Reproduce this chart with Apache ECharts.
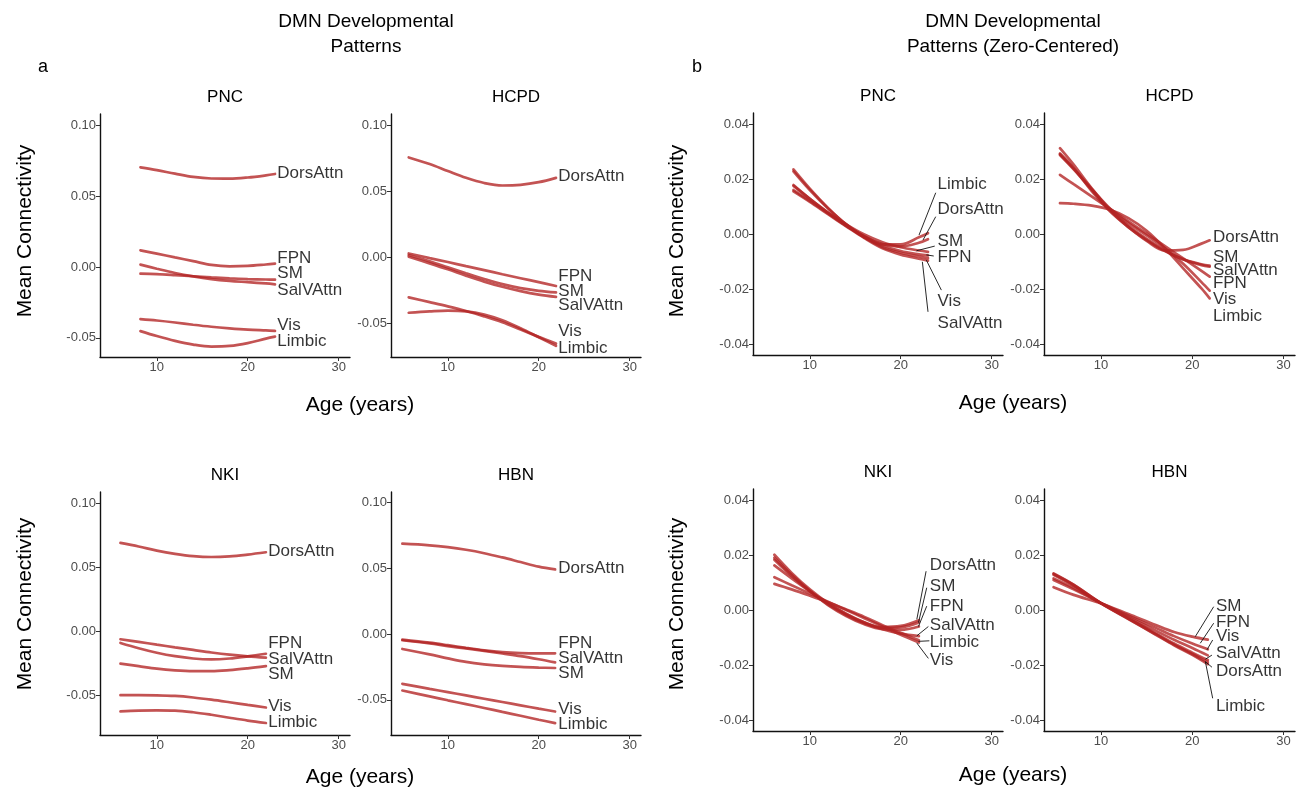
<!DOCTYPE html>
<html><head><meta charset="utf-8">
<script src="https://cdn.jsdelivr.net/npm/echarts@6/dist/echarts.min.js"></script>
<style>html,body{margin:0;padding:0;background:#fff}#c{width:1299px;height:789px}</style>
</head><body><div id="c"></div>
<script>
// ---------- DATA ----------
const NETS = ["DorsAttn", "FPN", "SM", "SalVAttn", "Vis", "Limbic"];
const X_TICKS = [10, 20, 30];
const A_TICKS = [-0.05, 0, 0.05, 0.10];
const B_TICKS = [-0.04, -0.02, 0, 0.02, 0.04];

// Panel a: PNC
const aPNC_age = [8.2, 10, 12, 14, 16, 18, 20, 22, 23];
const aPNC_vals = [
  [0.0705, 0.0685, 0.066, 0.0637, 0.0626, 0.0625, 0.0633, 0.0648, 0.0658],
  [0.0118, 0.0095, 0.0068, 0.0042, 0.0015, 0.0005, 0.0008, 0.0018, 0.0024],
  [-0.0047, -0.005, -0.0057, -0.0065, -0.0073, -0.008, -0.0085, -0.0088, -0.0089],
  [0.0017, -0.0012, -0.0042, -0.0066, -0.0085, -0.0098, -0.0107, -0.0116, -0.0122],
  [-0.0368, -0.0378, -0.0392, -0.0408, -0.0422, -0.0433, -0.0442, -0.0448, -0.0451],
  [-0.0453, -0.0488, -0.0522, -0.0548, -0.0562, -0.0558, -0.0538, -0.0506, -0.0492]
];
const aPNC_labelY = [0.066, 0.0059, -0.0046, -0.0164, -0.0411, -0.0523];

// Panel a: HCPD
const aHCPD_age = [5.7, 8, 10, 12, 14, 16, 18, 20, 21.9];
const aHCPD_vals = [
  [0.0755, 0.0705, 0.0652, 0.0601, 0.0562, 0.0543, 0.0548, 0.0568, 0.0601],
  [0.003, -0.0005, -0.0035, -0.0066, -0.0096, -0.0127, -0.0157, -0.0187, -0.0216],
  [0.0018, -0.003, -0.0075, -0.012, -0.0163, -0.0202, -0.0232, -0.0252, -0.0264],
  [0.0005, -0.0045, -0.009, -0.0138, -0.0183, -0.0222, -0.0255, -0.0281, -0.0298],
  [-0.0302, -0.0338, -0.037, -0.0405, -0.0445, -0.049, -0.0545, -0.06, -0.065],
  [-0.0418, -0.0408, -0.0402, -0.0408, -0.0432, -0.0475, -0.0535, -0.0603, -0.0668]
];
const aHCPD_labelY = [0.0609, -0.0139, -0.0255, -0.036, -0.0557, -0.0683];

// Panel a: NKI
const aNKI_age = [6, 8, 10, 12, 14, 16, 18, 20, 22];
const aNKI_vals = [
  [0.0688, 0.066, 0.0628, 0.0603, 0.0585, 0.0578, 0.0583, 0.0597, 0.0615],
  [-0.0065, -0.0085, -0.0107, -0.0128, -0.0148, -0.0168, -0.0185, -0.0198, -0.0208],
  [-0.0255, -0.0275, -0.0295, -0.0308, -0.0314, -0.0314, -0.0306, -0.0292, -0.0275],
  [-0.0094, -0.0135, -0.017, -0.0197, -0.0215, -0.0222, -0.0215, -0.0198, -0.0178],
  [-0.0502, -0.0502, -0.0503, -0.0508, -0.052, -0.0537, -0.0557, -0.0578, -0.0598],
  [-0.0628, -0.0622, -0.062, -0.0622, -0.0635, -0.0655, -0.0678, -0.07, -0.0719]
];
const aNKI_labelY = [0.0625, -0.0094, -0.0341, -0.0221, -0.0588, -0.0711];

// Panel a: HBN
const aHBN_age = [5, 8, 10, 12, 14, 16, 18, 20, 21.8];
const aHBN_vals = [
  [0.0684, 0.0672, 0.0658, 0.0638, 0.0612, 0.058, 0.0545, 0.051, 0.0489],
  [-0.0043, -0.0066, -0.0085, -0.0105, -0.0124, -0.0138, -0.0145, -0.0147, -0.0147],
  [-0.0114, -0.0155, -0.0185, -0.0212, -0.023, -0.0242, -0.025, -0.0255, -0.0258],
  [-0.0048, -0.0072, -0.0092, -0.011, -0.0128, -0.0148, -0.0168, -0.0192, -0.0216],
  [-0.0378, -0.0416, -0.0441, -0.0466, -0.0491, -0.0516, -0.0541, -0.0566, -0.0588],
  [-0.0429, -0.0473, -0.0503, -0.0532, -0.0561, -0.0591, -0.062, -0.065, -0.0676]
];
const aHBN_labelY = [0.0494, -0.0074, -0.0302, -0.0188, -0.0575, -0.0684];

// Panel b: PNC (zero-centered)
const bPNC_age = [8.2, 10, 12, 14, 16, 18, 20, 22, 23];
const bPNC_vals = [
  [0.0228, 0.016, 0.0093, 0.0035, -0.001, -0.0037, -0.0045, -0.0032, -0.0019],
  [0.016, 0.012, 0.0075, 0.003, -0.0008, -0.0042, -0.0062, -0.0074, -0.0078],
  [0.0178, 0.0128, 0.0078, 0.0035, -0.0002, -0.003, -0.0048, -0.006, -0.0065],
  [0.0155, 0.0117, 0.0072, 0.0028, -0.0015, -0.0052, -0.0075, -0.009, -0.0097],
  [0.0175, 0.0128, 0.0078, 0.003, -0.0012, -0.0048, -0.0068, -0.0082, -0.0088],
  [0.0235, 0.0165, 0.0095, 0.0035, -0.0012, -0.0038, -0.0038, -0.0012, 0.0003]
];
const bPNC_labelY = [0.0091, -0.0083, -0.0025, -0.0323, -0.0244, 0.0182];
// leader segments: [label-side x, label-side y, tip x, tip y]
const bPNC_segs = [
  [23.85, 0.0063, 22.45, -0.0022],
  [23.63, -0.008, 22.82, -0.0076],
  [23.74, -0.0044, 21.73, -0.0061],
  [23.0, -0.0283, 22.38, -0.0101],
  [24.47, -0.0204, 22.82, -0.0095],
  [23.85, 0.015, 22.01, -0.0004]
];

// Panel b: HCPD (zero-centered)
const bHCPD_age = [5.5, 7, 9, 11, 13, 15, 17, 19, 21, 21.9];
const bHCPD_vals = [
  [0.0293, 0.024, 0.0155, 0.0082, 0.0025, -0.0025, -0.006, -0.0058, -0.0035, -0.0023],
  [0.0215, 0.0181, 0.0136, 0.0091, 0.0046, 0.0001, -0.0044, -0.0089, -0.0134, -0.0155],
  [0.0287, 0.0235, 0.016, 0.0085, 0.0025, -0.0022, -0.0062, -0.0092, -0.011, -0.0115],
  [0.029, 0.0238, 0.0163, 0.0088, 0.003, -0.0018, -0.006, -0.0093, -0.0113, -0.0119],
  [0.0312, 0.0252, 0.0165, 0.0092, 0.004, -0.0005, -0.0052, -0.0108, -0.0175, -0.0206],
  [0.0112, 0.011, 0.0103, 0.0088, 0.0058, 0.0012, -0.0052, -0.0125, -0.0198, -0.0234]
];
const bHCPD_labelY = [-0.0013, -0.0179, -0.0083, -0.0133, -0.0237, -0.0298];

// Panel b: NKI (zero-centered)
const bNKI_age = [6.1, 8, 10, 12, 14, 16, 18, 20, 22];
const bNKI_vals = [
  [0.0201, 0.0135, 0.0075, 0.0025, -0.0015, -0.0045, -0.0062, -0.0058, -0.0037],
  [0.0183, 0.0124, 0.0068, 0.0018, -0.0022, -0.0052, -0.007, -0.0072, -0.006],
  [0.019, 0.0128, 0.007, 0.002, -0.0018, -0.0048, -0.0065, -0.0063, -0.0045],
  [0.0162, 0.0115, 0.0068, 0.0025, -0.0013, -0.0045, -0.007, -0.0086, -0.0095],
  [0.0119, 0.009, 0.006, 0.003, 0.0, -0.003, -0.006, -0.009, -0.0118],
  [0.0095, 0.0075, 0.0052, 0.0028, 0.0002, -0.0025, -0.0055, -0.0083, -0.011]
];
const bNKI_labelY = [0.0162, 0.0014, 0.0085, -0.0054, -0.0184, -0.0118];
const bNKI_segs = [
  [22.79, 0.0141, 21.77, -0.0034],
  [22.86, 0.0014, 21.95, -0.006],
  [22.86, 0.0081, 21.95, -0.0046],
  [23.04, -0.006, 21.77, -0.0094],
  [23.04, -0.0176, 21.77, -0.012],
  [23.15, -0.0112, 21.95, -0.0114]
];

// Panel b: HBN (zero-centered)
const bHBN_age = [4.8, 7, 10, 13, 16, 18, 20, 21.7];
const bHBN_vals = [
  [0.0131, 0.0091, 0.0025, -0.0032, -0.0088, -0.0126, -0.016, -0.019],
  [0.0109, 0.0075, 0.0026, -0.002, -0.0065, -0.0095, -0.0122, -0.0143],
  [0.0083, 0.0055, 0.0024, -0.0015, -0.0055, -0.008, -0.0097, -0.0108],
  [0.0128, 0.0088, 0.0024, -0.003, -0.0085, -0.0122, -0.0155, -0.0182],
  [0.0115, 0.008, 0.0025, -0.0025, -0.0075, -0.0108, -0.0138, -0.0165],
  [0.0133, 0.0092, 0.0024, -0.0033, -0.009, -0.0128, -0.0163, -0.0197]
];
const bHBN_labelY = [-0.0224, -0.0046, 0.0015, -0.0158, -0.0095, -0.0352];
const bHBN_segs = [
  [22.15, -0.0208, 21.43, -0.0188],
  [22.34, -0.0048, 20.87, -0.0121],
  [22.34, 0.0012, 20.32, -0.0097],
  [22.15, -0.0164, 21.43, -0.0179],
  [22.23, -0.0109, 21.6, -0.0145],
  [22.23, -0.0321, 21.43, -0.0188]
];

// ---------- LAYOUT / STYLE ----------
const FONT = '"Liberation Sans", Arial, Helvetica, sans-serif';
const LINE_COLOR = 'rgba(178,34,34,0.78)';

const panels = [
  {title: 'PNC', ages: aPNC_age, vals: aPNC_vals, labelX: 23.2, labelY: aPNC_labelY, segs: null,
   yMin: -0.0636, yMax: 0.1082, ticks: A_TICKS, box: [100, 114, 350, 357]},
  {title: 'HCPD', ages: aHCPD_age, vals: aHCPD_vals, labelX: 22.1, labelY: aHCPD_labelY, segs: null,
   yMin: -0.0752, yMax: 0.1083, ticks: A_TICKS, box: [391, 114, 641, 357]},
  {title: 'NKI', ages: aNKI_age, vals: aNKI_vals, labelX: 22.2, labelY: aNKI_labelY, segs: null,
   yMin: -0.0813, yMax: 0.1086, ticks: A_TICKS, box: [100, 492, 350, 735]},
  {title: 'HBN', ages: aHBN_age, vals: aHBN_vals, labelX: 22.1, labelY: aHBN_labelY, segs: null,
   yMin: -0.0766, yMax: 0.1076, ticks: A_TICKS, box: [391, 492, 641, 735]},
  {title: 'PNC', ages: bPNC_age, vals: bPNC_vals, labelX: 24.0, labelY: bPNC_labelY, segs: bPNC_segs,
   yMin: -0.044, yMax: 0.044, ticks: B_TICKS, box: [753, 113, 1003, 355]},
  {title: 'HCPD', ages: bHCPD_age, vals: bHCPD_vals, labelX: 22.2, labelY: bHCPD_labelY, segs: null,
   yMin: -0.044, yMax: 0.044, ticks: B_TICKS, box: [1044, 113, 1295, 355]},
  {title: 'NKI', ages: bNKI_age, vals: bNKI_vals, labelX: 23.15, labelY: bNKI_labelY, segs: bNKI_segs,
   yMin: -0.044, yMax: 0.044, ticks: B_TICKS, box: [753, 489, 1003, 731]},
  {title: 'HBN', ages: bHBN_age, vals: bHBN_vals, labelX: 22.53, labelY: bHBN_labelY, segs: bHBN_segs,
   yMin: -0.044, yMax: 0.044, ticks: B_TICKS, box: [1044, 489, 1295, 731]}
];

const grid = [], xAxis = [], yAxis = [], series = [], graphic = [];
const axisLineStyle = {color: '#111', width: 1.4};

panels.forEach((p, i) => {
  const [l, t, r, b] = p.box;
  grid.push({left: l, top: t, width: r - l, height: b - t, containLabel: false});
  xAxis.push({
    type: 'value', gridIndex: i, min: 3.75, max: 31.25,
    axisLine: {show: true, onZero: false, lineStyle: axisLineStyle},
    axisTick: {show: true, customValues: X_TICKS, length: 4, lineStyle: {color: '#333', width: 1}},
    axisLabel: {show: true, customValues: X_TICKS, color: '#4d4d4d', fontSize: 13, fontFamily: FONT, margin: 4},
    splitLine: {show: false}
  });
  yAxis.push({
    type: 'value', gridIndex: i, min: p.yMin, max: p.yMax,
    axisLine: {show: true, onZero: false, lineStyle: axisLineStyle},
    axisTick: {show: true, customValues: p.ticks, length: 4, lineStyle: {color: '#333', width: 1}},
    axisLabel: {show: true, customValues: p.ticks, color: '#4d4d4d', fontSize: 13, fontFamily: FONT, margin: 4,
                formatter: v => (Math.abs(v) < 1e-9 ? 0 : v).toFixed(2)},
    splitLine: {show: false}
  });
  NETS.forEach((n, k) => {
    series.push({
      type: 'line', xAxisIndex: i, yAxisIndex: i, name: p.title + ' ' + n,
      data: p.ages.map((a, j) => [a, p.vals[k][j]]),
      smooth: 0.35, showSymbol: false, silent: true, z: 2,
      lineStyle: {color: LINE_COLOR, width: 2.7, cap: 'round'}
    });
  });
  if (p.segs) {
    series.push({
      type: 'lines', coordinateSystem: 'cartesian2d', xAxisIndex: i, yAxisIndex: i, silent: true, z: 3,
      lineStyle: {color: '#111', width: 0.9, opacity: 1},
      data: p.segs.map(s => ({coords: [[s[0], s[1]], [s[2], s[3]]]}))
    });
  }
  series.push({
    type: 'scatter', xAxisIndex: i, yAxisIndex: i, silent: true, z: 4,
    symbolSize: 1, itemStyle: {color: 'rgba(0,0,0,0)'},
    data: NETS.map((n, k) => [p.labelX, p.labelY[k], n]),
    label: {show: true, position: 'right', distance: 0, color: '#000', fontSize: 17, fontFamily: FONT,
            formatter: q => q.data[2]}
  });
  graphic.push({type: 'text', silent: true, x: (l + r) / 2, y: t - 17,
    style: {text: p.title, align: 'center', verticalAlign: 'middle', fill: '#000', font: '17px ' + FONT}});
});

function txt(text, x, y, size, rot) {
  graphic.push({type: 'text', silent: true, x: x, y: y, rotation: rot || 0,
    style: {text: text, align: 'center', verticalAlign: 'middle', fill: '#000', font: size + 'px ' + FONT}});
}
txt('DMN Developmental', 366, 22, 19);
txt('Patterns', 366, 47, 19);
txt('DMN Developmental', 1013, 22, 19);
txt('Patterns (Zero-Centered)', 1013, 47, 19);
txt('a', 43, 67, 18);
txt('b', 697, 67, 18);
txt('Age (years)', 360, 405, 21);
txt('Age (years)', 360, 777, 21);
txt('Age (years)', 1013, 403, 21);
txt('Age (years)', 1013, 775, 21);
txt('Mean Connectivity', 25, 231, 21, Math.PI / 2);
txt('Mean Connectivity', 25, 604, 21, Math.PI / 2);
txt('Mean Connectivity', 677, 231, 21, Math.PI / 2);
txt('Mean Connectivity', 677, 604, 21, Math.PI / 2);

const chart = echarts.init(document.getElementById('c'), null, {renderer: 'canvas'});
chart.setOption({
  animation: false,
  backgroundColor: '#fff',
  textStyle: {fontFamily: FONT},
  grid, xAxis, yAxis, series, graphic
});
</script>
</body></html>
